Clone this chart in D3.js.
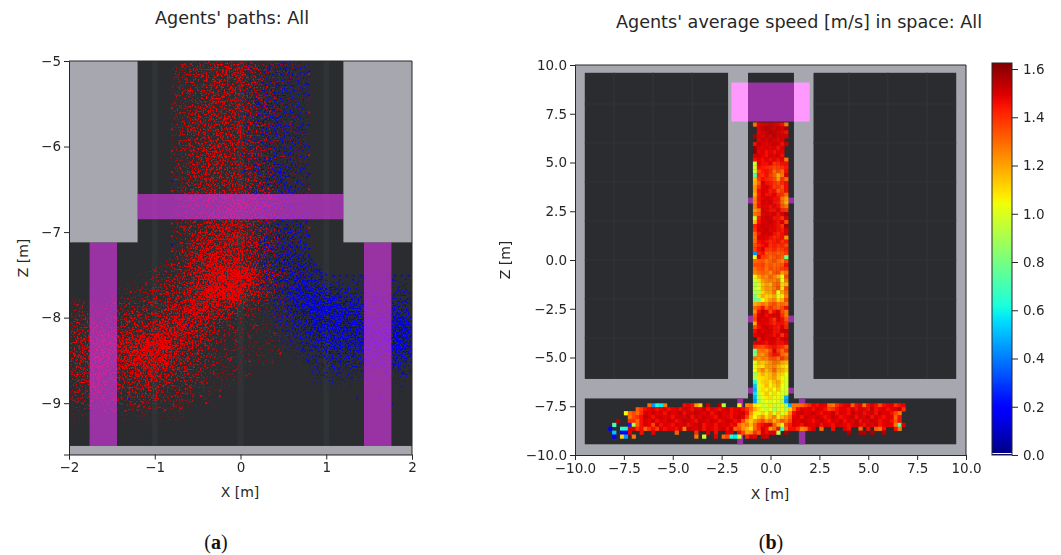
<!DOCTYPE html>
<html><head><meta charset="utf-8">
<script src="https://cdn.jsdelivr.net/npm/d3@7/dist/d3.min.js"></script>
<style>html,body{margin:0;background:#fff}svg{display:block}text{font-family:"DejaVu Sans",sans-serif;fill:#262626}</style>
</head><body><svg id="c" width="1061" height="555"></svg>
<script>
const titleA="Agents' paths: All", titleB="Agents' average speed [m/s] in space: All";
const ticksAX=[-2,-1,0,1,2], ticksAZ=[-5,-6,-7,-8,-9];
const ticksB=[-10,-7.5,-5,-2.5,0,2.5,5,7.5,10];
const ticksC=[0,0.2,0.4,0.6,0.8,1.0,1.2,1.4,1.6];
// density: rows z=-5.1,-5.3,... ; columns x=-1.9,-1.7,...,1.9; scale 0-9
const redDensity=[
[0,0,0,0,0,0,2,3,4,5,4,2,2,1,0,0,0,0,0,0],
[0,0,0,0,0,0,2,3,4,4,3,2,1,1,0,0,0,0,0,0],
[0,0,0,0,0,0,2,3,4,4,3,2,1,1,0,0,0,0,0,0],
[0,0,0,0,0,0,2,4,4,4,3,2,1,1,0,0,0,0,0,0],
[0,0,0,0,0,0,2,3,4,4,3,2,1,1,0,0,0,0,0,0],
[0,0,0,0,0,0,2,3,5,4,3,2,1,1,0,0,0,0,0,0],
[0,0,0,0,0,0,2,4,4,4,3,2,1,1,0,0,0,0,0,0],
[0,0,0,0,0,0,2,3,4,4,4,3,1,1,0,0,0,0,0,0],
[0,0,0,0,0,0,2,3,4,5,5,3,2,1,0,0,0,0,0,0],
[0,0,0,0,0,0,2,3,5,5,4,3,1,1,0,0,0,0,0,0],
[0,0,0,0,0,0,2,4,5,6,5,3,1,1,0,0,0,0,0,0],
[0,0,0,0,0,1,3,5,6,6,4,2,1,0,0,0,0,0,0,0],
[0,0,0,0,1,2,3,5,7,8,7,3,2,1,0,0,0,0,0,0],
[0,0,1,1,2,3,4,6,8,8,6,3,1,0,0,0,0,0,0,0],
[2,2,2,3,3,4,5,6,5,4,2,1,1,0,0,0,0,0,0,0],
[3,4,3,4,4,6,6,5,3,2,1,1,1,0,0,0,0,0,0,0],
[4,5,5,6,7,7,5,4,2,1,1,1,1,0,0,0,0,0,0,0],
[4,5,5,6,7,6,4,3,2,1,1,1,0,0,0,0,0,0,0,0],
[3,4,3,4,5,4,3,2,1,1,0,0,0,0,0,0,0,0,0,0],
[2,3,2,3,3,2,2,1,1,0,0,0,0,0,0,0,0,0,0,0],
[1,1,1,1,1,1,1,0,0,0,0,0,0,0,0,0,0,0,0,0]];
const blueDensity=[
[0,0,0,0,0,0,0,0,0,0,1,2,3,2,0,0,0,0,0,0],
[0,0,0,0,0,0,0,0,0,0,1,2,3,2,0,0,0,0,0,0],
[0,0,0,0,0,0,0,0,0,0,1,3,3,2,0,0,0,0,0,0],
[0,0,0,0,0,0,0,0,0,0,2,3,3,2,0,0,0,0,0,0],
[0,0,0,0,0,0,0,0,0,0,1,3,3,2,0,0,0,0,0,0],
[0,0,0,0,0,0,0,0,0,0,1,2,3,2,0,0,0,0,0,0],
[0,0,0,0,0,0,0,0,0,0,1,3,3,2,0,0,0,0,0,0],
[0,0,0,0,0,0,0,0,0,0,1,2,3,2,0,0,0,0,0,0],
[0,0,0,0,0,0,0,0,0,0,1,2,3,2,0,0,0,0,0,0],
[0,0,0,0,0,0,0,0,0,0,1,2,3,3,0,0,0,0,0,0],
[0,0,0,0,0,0,0,0,0,0,1,3,4,3,0,0,0,0,0,0],
[0,0,0,0,0,0,0,0,0,0,1,3,4,4,1,0,0,0,0,0],
[0,0,0,0,0,0,0,0,0,0,0,2,4,5,3,0,0,0,0,0],
[0,0,0,0,0,0,0,0,0,0,0,1,3,6,5,4,3,2,2,2],
[0,0,0,0,0,0,0,0,0,0,0,1,3,5,7,6,5,4,4,4],
[0,0,0,0,0,0,0,0,0,0,0,0,2,3,6,6,6,6,6,7],
[0,0,0,0,0,0,0,0,0,0,0,0,1,2,4,5,5,6,6,7],
[0,0,0,0,0,0,0,0,0,0,0,0,0,1,2,3,3,4,4,4],
[0,0,0,0,0,0,0,0,0,0,0,0,0,0,1,1,1,1,1,1]];
// individual dots, in hundredths of a metre: each row is [z, x, x, ...]
const redDotRows=[
[-502,-55,-38,-21,-9,3,14,-44,-28],[-506,-68,-47,-30,-12,-4,9,21,-61],[-510,-72,-52,-33,-25,-6,17,36,-16],[-514,-59,-41,-19,-2,12,28,-66,-36],[-518,-75,-49,-27,-14,6,19,-57,-8],
[-522,-63,-45,-35,-20,-1,24,42,-70],[-526,-54,-31,-16,8,15,-42,-69,-24],[-530,-76,-58,-39,-11,2,31,-47,-28],[-534,-66,-50,-23,-7,18,-36,-13,50],[-538,-71,-44,-29,-3,11,26,-60,-18],
[-542,-56,-33,-15,5,-46,-25,38,-74],[-546,-64,-40,-21,-9,13,-52,-31,22],[-550,-78,-48,-26,-4,9,-58,-37,-14],[-554,-61,-43,-19,1,29,-69,-33,16],[-558,-53,-35,-12,7,-45,-24,-73,44],
[-562,-67,-41,-28,-6,20,-55,-17,35],[-566,-74,-50,-22,-10,4,-38,-62,12],[-570,-59,-32,-16,10,25,-47,-27,-68],[-574,-65,-42,-20,-2,-53,-30,17,58],[-578,-77,-56,-36,-13,6,-44,-24,33],
[-582,-60,-39,-18,-5,15,-49,-28,-71],[-586,-68,-46,-25,3,22,-57,-34,-11],[-590,-54,-31,-14,8,-43,-21,41,-75],[-594,-63,-38,-27,-8,14,-51,-19,28],[-598,-72,-48,-33,-1,-59,-23,9,19],
[-602,-57,-35,-16,5,-45,-26,-66,37],[-606,-70,-52,-29,-10,13,-40,-20,24],[-610,-61,-42,-23,-3,-55,-32,7,48],[-614,-76,-47,-18,11,-37,-27,-65,30],[-618,-58,-34,-12,2,-49,-22,16,-8],
[-622,-67,-44,-25,-6,-54,-31,21,-72],[-626,-62,-39,-15,9,-48,-28,-74,34],[-630,-56,-36,-20,-2,12,-43,-11,26],[-634,-69,-50,-30,-7,-60,-24,15,54],[-638,-64,-41,-17,4,-52,-33,-77,19],
[-642,-58,-37,-26,-9,-46,-13,23,8],[-646,-73,-49,-21,1,-62,-34,14,40],[-650,-55,-42,-16,-4,-30,10,-68,27],[-654,-65,-38,-24,6,-51,-12,18,-76],[-658,-60,-45,-29,-8,-19,13,-35,31],
[-690,-63,-44,-27,-10,2,20,-54,-35,-18,12,34,-70],[-694,-58,-40,-22,-6,8,-48,-31,26,-67,-14,46],[-698,-74,-52,-33,-16,4,-43,-25,17,-61,-9,38],[-702,-64,-37,-20,-2,14,-47,-29,-11,30,-56,7],
[-706,-69,-49,-30,-13,-39,-21,6,22,-59,-5,44],[-710,-55,-41,-26,-8,11,-34,-17,-63,28,0,-47],[-714,-66,-45,-32,-15,3,-53,-23,19,-37,-9,36],[-718,-60,-38,-19,-4,-46,-28,9,-72,25,-12,-54],
[-722,-57,-43,-24,-7,-35,-16,15,-65,31,2,-29],[-726,-62,-47,-33,-11,-22,5,-52,18,-39,-3,27],[-730,-76,-50,-28,-14,-40,-6,12,-58,-20,24,-33],[-734,-68,-44,-31,-17,-8,8,-54,-25,-37,20,-2],
[-738,-60,-48,-36,-21,-10,3,-29,16,-42,-15,-55,-26],[-742,-72,-45,-33,-19,-5,11,-52,-27,-38,25,-12,-2],
[-746,-86,-64,-43,-30,-16,-3,14,-50,-24,-36,-9,5,-58,30],[-749,-94,-70,-52,-35,-20,-6,8,-42,-27,-13,-1,22,-61,42],[-752,-81,-57,-39,-25,-11,3,-47,-31,-18,-7,17,-66,-34,12],
[-755,-102,-74,-46,-28,-15,-2,10,-38,-22,-8,-54,26,-33,-12],[-758,-88,-63,-41,-23,-9,6,-49,-30,-17,-4,-71,35,-36,-14],[-761,-108,-79,-55,-33,-19,-7,13,-44,-26,1,-60,23,-11,-39],
[-764,-96,-68,-47,-29,-13,0,-37,-21,-6,-52,9,-84,-32,-16],[-767,-116,-85,-60,-40,-24,-10,4,-34,-18,-50,19,-28,-3,-73],[-770,-104,-76,-51,-36,-20,-8,-43,-27,-14,7,-65,31,-31,-2],
[-773,-92,-70,-45,-30,-16,-4,-55,-25,-11,15,-38,-81,-22,2],[-776,-125,-82,-58,-41,-23,-9,-34,-19,3,-48,-13,28,-66,-5],[-779,-110,-74,-49,-32,-17,-6,-42,-26,11,-62,-12,-89,-37,5],
[-782,-133,-97,-66,-44,-28,-15,-35,-21,-2,-54,18,-80,-9,-47],[-785,-184,-150,-103,-72,-52,-36,-20,-30,-10,8,-60,-42,-88,-25],[-788,-172,-126,-91,-64,-46,-31,-16,-56,-24,2,-38,-79,-7,-50],
[-791,-194,-142,-113,-84,-58,-39,-26,-12,-69,-33,-47,14,-98,-20],[-794,-165,-128,-100,-75,-53,-35,-43,-22,-62,-8,-90,-29,-118,4],[-797,-186,-155,-120,-86,-67,-48,-30,-57,-38,-16,-78,-24,-104,12],
[-800,-197,-173,-137,-108,-82,-59,-41,-50,-26,-70,-13,-93,-33,-147],[-803,-180,-145,-116,-94,-72,-54,-36,-63,-44,-19,-85,-28,-128,6],[-806,-191,-162,-131,-101,-77,-60,-46,-68,-31,-52,-110,-38,-15,-88],
[-809,-176,-149,-124,-95,-71,-56,-40,-83,-62,-23,-105,-35,-136,18],[-812,-198,-168,-139,-112,-87,-66,-48,-75,-55,-30,-98,-42,-122,-10],[-815,-184,-157,-127,-103,-80,-58,-90,-69,-37,-116,-47,-143,-22,-6],
[-818,-193,-170,-148,-121,-96,-74,-61,-84,-52,-108,-41,-133,-27,24],[-821,-178,-153,-130,-106,-89,-65,-78,-50,-118,-34,-97,-160,-14,40],[-824,-199,-182,-158,-125,-100,-76,-57,-92,-44,-115,-68,-140,-20,8],
[-827,-188,-164,-144,-119,-93,-72,-83,-54,-107,-36,-129,-62,-175,-4],[-830,-174,-151,-134,-111,-87,-66,-98,-48,-122,-79,-196,-25,32,-40],[-833,-195,-166,-146,-126,-102,-81,-60,-114,-91,-70,-136,-38,-180,15],
[-836,-183,-159,-138,-117,-95,-73,-104,-52,-128,-85,-155,-30,-65,-8],[-839,-198,-171,-149,-123,-99,-78,-112,-58,-88,-135,-44,-189,-16,48],[-842,-177,-154,-132,-109,-84,-69,-96,-120,-50,-143,-33,-164,-74,22],
[-845,-192,-168,-141,-118,-94,-75,-106,-55,-128,-82,-156,-36,-186,2],[-848,-181,-150,-130,-104,-86,-63,-113,-92,-139,-46,-172,-24,-72,-12],[-851,-196,-162,-145,-124,-101,-79,-116,-60,-90,-135,-40,-185,10,-66],
[-854,-175,-152,-127,-110,-88,-69,-98,-126,-49,-147,-28,-165,-80,36],[-857,-190,-170,-136,-115,-93,-71,-105,-54,-122,-160,-38,-83,-18,-59],[-860,-183,-155,-133,-107,-85,-64,-119,-96,-143,-44,-176,-6,-74,-30],
[-863,-197,-167,-141,-120,-99,-77,-112,-52,-131,-89,-153,-34,-186,-62],[-866,-179,-149,-128,-103,-82,-117,-68,-140,-94,-160,-42,-20,-191,8],[-869,-188,-163,-135,-111,-90,-72,-125,-56,-146,-100,-174,-76],
[-872,-172,-147,-122,-97,-78,-113,-60,-138,-86,-194,-31,-157,-48],[-875,-184,-158,-131,-106,-84,-124,-65,-150,-92,-178,-40,-116,-14],[-878,-193,-168,-142,-115,-95,-129,-70,-155,-80,-45,-104,-186],
[-881,-176,-150,-120,-100,-136,-74,-165,-88,-58,-190,-110,-24],[-884,-186,-160,-133,-107,-145,-83,-172,-62,-118,-36,-94],[-887,-195,-153,-126,-98,-140,-72,-178,-50,-112,-164,-86],
[-890,-170,-144,-116,-182,-90,-130,-66,-152,-105,-44,-192],[-893,-188,-158,-124,-100,-138,-76,-174,-112,-58,-148],[-896,-180,-146,-118,-162,-92,-132,-70,-196,-106,-40],
[-899,-190,-154,-128,-172,-86,-112,-150,-60,-138,-98],[-902,-176,-140,-104,-184,-124,-78,-160,-50,-116],[-905,-192,-166,-130,-94,-150,-70,-110,-32,-178]];
const blueDotRows=[
[-504,8,24,38,52,70],[-510,3,19,33,47,62,76],[-516,12,28,41,58,73],[-522,6,22,36,50,66],[-528,15,30,44,60,78],[-534,2,20,34,54,69],[-540,10,26,42,56,74],[-546,17,31,48,63],
[-552,5,23,37,52,71],[-558,13,29,45,59,77],[-564,8,21,39,55,67],[-570,16,33,46,61,75],[-576,4,25,40,53,72],[-582,11,27,43,64,79],[-588,18,35,49,57,68],[-594,7,22,38,51,74],
[-600,14,30,44,62,76],[-606,3,24,41,55,70],[-612,19,34,47,60,78],[-618,9,26,39,58,66],[-624,15,32,50,63,75],[-630,5,21,43,54,71],[-636,12,28,37,59,77],[-642,20,35,48,65],
[-648,8,25,42,56,73],[-654,16,31,46,61,79],[-660,4,23,38,52,69],[-690,11,29,44,57,75],[-696,-6,19,36,51,67],[-702,14,27,43,60,78],[-708,22,34,48,64,72],[-714,9,30,46,58,76],
[-720,26,37,52,66,79],[-726,18,33,49,61,74],[-732,28,42,55,69,81],[-736,22,38,50,64,78,84],[-740,31,44,58,71,86],[-744,26,40,54,67,80,90],
[-748,34,47,62,75,88,96],[-753,30,43,56,69,82,95,110,128,152,177],[-756,38,52,65,78,91,104,120,141,166,190],[-759,28,46,60,73,86,100,115,135,158,183],[-762,36,50,63,76,89,108,125,147,172,195],
[-765,42,55,68,81,94,112,130,150,178],[-768,33,48,61,74,87,102,119,138,163,188],[-771,40,53,66,79,92,106,124,144,170,197],[-774,45,58,71,84,97,114,131,154,181],[-777,36,51,64,77,90,103,121,140,167,192],
[-780,43,56,69,82,95,110,127,148,174,199],[-783,49,62,75,88,101,117,134,156,185,126],[-786,39,54,67,80,93,107,123,143,169,194],[-789,46,59,72,85,98,113,129,151,179,137],[-792,41,57,70,83,96,109,125,146,172,196],
[-795,52,65,78,91,104,119,136,158,187,145],[-798,44,60,73,86,99,115,132,153,176,198],[-801,55,68,81,94,107,122,139,161,183,150],[-804,47,63,76,89,102,118,135,156,178,195],[-807,58,71,84,97,111,126,142,164,188,148],
[-810,50,66,79,92,105,120,137,159,181,197],[-813,61,74,87,100,114,129,146,167,190,152],[-816,53,69,82,95,108,124,141,162,184,199],[-819,64,77,90,103,117,133,149,170,193,155],[-822,56,72,85,98,112,127,144,165,186,196],
[-825,67,80,93,106,120,136,152,173,191,158],[-828,59,75,88,101,115,131,147,168,188,198],[-831,70,83,96,110,125,140,156,176,194],[-834,62,78,91,104,118,134,150,171,189,163],[-837,73,86,99,113,128,143,159,179,197],
[-840,81,94,107,122,137,153,174,192,166],[-843,76,89,102,116,132,148,169,186,198],[-846,84,97,110,126,141,157,178,195],[-849,79,92,105,120,135,151,172,190],[-852,87,100,114,129,145,161,182,197],
[-855,82,95,108,124,139,155,176,193],[-858,90,103,118,133,149,167,186],[-862,86,99,112,127,143,160,180,198],[-866,94,110,122,137,153,171,190],[-870,100,116,130,147,164,183],[-875,107,124,141,158,176,194],
[-880,132,150,168,187],[-886,118,146,172],[-892,136,160,185],[-898,150,176]];
// dots along the wall edges and stray dots: x,z pairs in hundredths
const redEdge=[-80,-555,-80,-580,-80,-605,-80,-630,-80,-652,-80,-690,-80,-705,-80,-722,-80,-738,80,-515,80,-560,80,-610,80,-650,80,-695,-158,-909,-146,-909,-134,-909,-120,-908,-88,-908,-70,-906,-40,-900,-24,-892,-110,-760,-100,-745,-128,-770,-150,-775,-190,-785];
const blueEdge=[80,-512,80,-540,80,-575,80,-600,80,-632,80,-658,80,-680,80,-705,80,-728,-80,-640,-80,-662,-80,-715,83,-732,86,-738,90,-744,94,-748,100,-750,108,-751,116,-751,124,-751,132,-751,140,-751,148,-751,156,-751,164,-751,172,-751,180,-751,188,-751,196,-751,-38,-760,-60,-808,-130,-895,-175,-908];
// mean speed from panel (b), in cm/s; 0 = empty cell. Nine columns x=-0.8..0.8, rows top to bottom
const speedCorridor=[
[130,148,150,150,152,150,148,146,128],[0,150,152,154,152,150,152,150,156],[0,148,150,152,154,152,150,148,146],
[156,150,148,152,150,154,150,150,150],[0,148,152,150,152,150,148,150,0],[146,154,150,148,150,152,150,146,152],
[160,150,148,150,148,150,146,150,0],[160,148,150,146,148,146,148,148,0],[150,152,148,146,150,148,150,146,0],
[146,148,146,148,146,148,146,148,128],[97,150,146,146,148,140,142,146,146],[97,146,144,142,140,136,138,140,144],
[95,136,144,146,142,130,136,130,146],[72,142,140,146,138,132,118,128,150],[115,138,146,142,140,136,122,140,130],
[118,132,150,146,144,140,136,142,146],[122,140,148,150,146,138,140,134,146],[122,146,150,148,144,146,132,138,146],
[118,144,150,146,146,148,142,140,130],[125,146,148,150,148,146,146,128,120],[125,144,150,148,150,146,144,130,118],
[128,146,148,148,146,148,146,134,128],[122,128,150,148,146,146,148,142,140],[128,132,148,150,148,150,146,150,156],
[98,144,150,152,150,146,146,140,150],[116,146,150,150,152,148,146,150,136],[142,148,152,150,150,148,146,140,156],
[140,150,150,152,148,148,146,144,150],[130,146,152,150,150,146,142,146,150],[128,150,150,148,146,142,144,146,122],
[130,146,148,146,142,144,146,140,144],[134,142,146,148,140,144,140,142,136],[136,146,150,140,138,142,136,138,142],
[45,142,146,134,134,136,132,134,138],[104,150,138,136,130,134,136,132,80],[130,132,134,128,132,136,130,126,136],
[135,136,138,130,134,130,132,134,146],[128,134,136,128,136,132,134,138,140],[126,130,132,130,124,134,136,122,128],
[105,120,128,124,132,126,118,104,136],[98,110,122,126,128,126,130,100,128],[92,98,116,122,118,130,132,112,116],
[94,104,118,124,122,128,136,110,136],[92,90,112,120,120,130,104,120,130],[82,108,118,112,114,120,100,108,126],
[78,80,104,114,122,126,112,118,136],[118,122,128,124,132,136,128,130,128],[130,136,146,130,140,134,130,136,146],
[124,146,152,148,136,146,150,136,128],[134,150,152,146,148,150,150,140,128],[136,152,148,150,146,140,150,146,134],
[118,148,150,148,146,142,146,146,140],[136,146,150,152,148,146,144,150,142],[146,152,148,150,150,146,146,152,152],
[148,150,152,150,148,146,148,140,148],[0,146,152,148,150,150,146,150,152],[150,150,148,146,150,148,146,146,148],
[140,136,134,140,144,146,142,140,132],[78,128,130,126,136,150,138,130,140],[80,126,122,130,140,146,144,130,126],
[128,122,128,126,134,136,128,140,132],[100,118,114,118,124,130,128,120,116],[100,112,108,120,122,126,118,112,108],
[104,118,126,116,122,132,120,118,112],[88,110,118,112,116,124,114,112,104],[92,108,110,112,116,122,112,106,100],
[62,106,112,114,108,116,120,108,100],[52,102,108,116,106,112,118,104,98],[48,100,110,106,112,104,114,102,100],
[56,98,106,114,102,110,104,100,96],[50,92,102,108,110,100,106,98,50],[46,88,100,104,98,104,100,92,45]];
// Nine rows of the cross corridor; columns x=-8.2,-8.0,... ; 0 = empty cell
const speedBand=[
[0,0,0,0,0,0,0,0,0,0,130,45,62,58,128,0,0,0,0,146,148,146,122,112,0,152,0,0,156,94,0,0,0,106,0,124,128,108,104,96,100,108,94,98,106,88,48,128,128,130,136,142,148,146,150,148,130,128,140,146,148,150,132,146,148,128,146,150,146,136,146,148,150,140,146,148],
[0,0,0,0,0,0,0,132,138,146,148,150,146,148,150,146,148,150,146,150,148,146,150,148,152,146,150,148,146,150,152,146,148,150,146,140,130,118,110,100,96,104,92,98,106,90,112,130,146,150,148,150,146,150,148,146,136,140,146,150,148,146,150,146,150,148,146,152,146,148,150,146,148,150,154,140],
[0,0,0,0,104,130,136,130,140,150,148,152,148,150,146,152,148,150,152,146,150,148,152,150,148,152,146,150,152,148,150,146,148,150,152,144,124,108,100,112,104,116,100,112,98,108,124,146,150,152,148,150,152,148,146,150,148,152,146,150,148,146,152,148,150,146,148,150,146,152,148,150,146,136,128],
[0,0,0,0,0,128,136,140,146,152,150,146,150,152,148,150,146,152,150,148,152,146,150,148,152,150,148,146,152,150,148,146,150,152,148,136,118,104,116,124,110,118,126,108,116,122,130,148,150,146,152,150,148,152,150,146,148,152,150,146,148,150,152,146,150,148,152,146,150,148,146,150,148,130,146],
[0,0,156,0,0,140,140,130,146,150,148,152,146,150,148,152,150,146,148,152,150,148,146,152,150,148,152,150,146,148,152,150,146,148,136,120,112,122,130,136,124,130,118,126,134,128,136,150,148,152,150,148,146,150,152,148,146,150,148,152,146,150,148,152,146,150,148,152,150,146,148,150,146,134,146],
[0,70,0,0,0,25,92,132,146,150,148,136,152,146,150,148,146,152,148,150,146,148,150,152,146,148,150,146,152,148,150,146,148,130,122,128,116,130,142,146,148,150,132,118,106,138,144,150,148,146,152,150,148,152,146,150,148,146,152,150,148,146,150,152,148,146,150,148,152,146,148,150,148,128,72,150],
[15,0,0,66,62,150,150,140,146,130,140,146,138,150,146,148,148,146,150,126,152,150,148,152,146,150,148,146,150,152,146,150,130,134,122,116,108,130,140,150,146,120,130,146,66,130,146,146,140,124,128,146,150,0,130,0,0,146,0,0,150,146,0,0,130,0,146,0,132,128,146,0,0,146,128],
[0,52,0,20,18,148,0,0,146,0,0,148,0,0,0,0,0,132,0,0,0,0,140,0,0,150,0,146,0,0,148,150,0,146,136,120,124,140,132,150,146,148,148,92,0,156,0,0,0,0,0,0,0,0,0,0,0,0,0,0,0,156,0,0,156,156,0,156,0,0,156],
[0,18,0,112,45,0,128,0,0,0,0,0,0,0,0,0,0,0,0,0,0,0,128,0,98,0,0,148,0,130,136,62,58,96,0,142,150,148,0,152,150,0,0,0,0,0,0,0,0,0,0,0,0,0,0,0,0,0,0,0,0,0,0,0,0,0,0,0,0,0,0,0,0,0,0]];

const svg=d3.select("#c");
const DARK="#2a2c30",WALL="#a7a7b0",PURPLE="#9933a3",GRID="#303336",INK="#262626";
const jr=d3.scaleLinear([0,.35,.66,.89,1],[0,0,1,1,.5]),jg=d3.scaleLinear([0,.125,.375,.64,.91,1],[0,0,1,1,0,0]),jb=d3.scaleLinear([0,.11,.34,.65,1],[.5,1,1,0,0]);
const jet=t=>{t=Math.max(0,Math.min(1,t));return d3.rgb(jr(t)*255,jg(t)*255,jb(t)*255).formatRgb();};
const VMAX=1.625;

/* ---------- panel (a) ---------- */
const xA=d3.scaleLinear([-2,2],[69,412]), yA=d3.scaleLinear([-5,-9.6],[61,454.5]);
const A=svg.append("g");
const rectA=(g,x0,x1,z0,z1,f,o=1)=>g.append("rect").attr("x",xA(x0)).attr("width",xA(x1)-xA(x0)).attr("y",yA(z0)).attr("height",yA(z1)-yA(z0)).attr("fill",f).attr("opacity",o);
const defs=svg.append("defs");
defs.append("clipPath").attr("id","plotA").append("rect").attr("x",69).attr("y",61).attr("width",343).attr("height",393.5);
const walk=[[-.82,-5],[.82,-5],[.82,-7.3],[1,-7.5],[2,-7.5],[2,-9.6],[-2,-9.6],[-2,-7.7],[-1.3,-7.55],[-.82,-7.3]];
defs.append("clipPath").attr("id","walkA").append("polygon").attr("points",walk.map(p=>[xA(p[0]),yA(p[1])].join(",")).join(" "));
// Rendering texture only: turns the typed density grid into a dotted grain, and loosens the typed dots' rows
const grain=(id,colour,seed)=>{const f=defs.append("filter").attr("id",id).attr("x",0).attr("y",0).attr("width","100%").attr("height","100%").attr("filterUnits","userSpaceOnUse").attr("x",60).attr("y",55).attr("width",360).attr("height",405).attr("color-interpolation-filters","sRGB");
 f.append("feGaussianBlur").attr("in","SourceAlpha").attr("stdDeviation",4).attr("result","a");
 f.append("feTurbulence").attr("type","fractalNoise").attr("baseFrequency",.62).attr("numOctaves",1).attr("seed",seed).attr("result","n");
 f.append("feColorMatrix").attr("in","n").attr("type","matrix").attr("values","0 0 0 0 0 0 0 0 0 0 0 0 0 0 0 3 0 0 0 -1").attr("result","na");
 f.append("feComposite").attr("in","a").attr("in2","na").attr("operator","arithmetic").attr("k1",0).attr("k2",1).attr("k3",1).attr("k4",-1).attr("result","s");
 const ct=f.append("feComponentTransfer").attr("in","s").attr("result","m"); ct.append("feFuncA").attr("type","linear").attr("slope",3.5);
 f.append("feFlood").attr("flood-color",colour).attr("result","c");
 f.append("feComposite").attr("in","c").attr("in2","m").attr("operator","in").attr("result","o");
 f.append("feGaussianBlur").attr("in","o").attr("stdDeviation",.35);};
grain("grainB","#0000e6",7); grain("grainR","#f00000",3);
const wob=defs.append("filter").attr("id","wob").attr("filterUnits","userSpaceOnUse").attr("x",60).attr("y",55).attr("width",360).attr("height",405).attr("color-interpolation-filters","sRGB");
wob.append("feTurbulence").attr("type","fractalNoise").attr("baseFrequency",.18).attr("numOctaves",2).attr("seed",11).attr("result","t");
wob.append("feDisplacementMap").attr("in","SourceGraphic").attr("in2","t").attr("scale",14).attr("xChannelSelector","R").attr("yChannelSelector","G");
const soft=defs.append("filter").attr("id","soft"); soft.append("feGaussianBlur").attr("stdDeviation",.35);
rectA(A,-2,2,-5,-9.6,DARK);
[-1,0,1].forEach(v=>rectA(A,v-.035,v+.035,-5,-9.5,GRID));
[-6,-7,-8,-9].forEach(v=>rectA(A,-2,2,v-.015,v+.015,GRID));
const walkG=A.append("g").attr("clip-path","url(#walkA)");
const drawDensity=(grid,filter,k)=>{const g=walkG.append("g").attr("filter",`url(#${filter})`);
 grid.forEach((row,r)=>row.forEach((d,c)=>{ if(!d) return;
  const x=-2+.2*c, z=-5-.2*r;
  rectA(g,x,x+.2,z,z-.2,"#000",Math.min(1,d/9*k));}));};
drawDensity(blueDensity,"grainB",1.0);
drawDensity(redDensity,"grainR",1.0);
const pairs=a=>d3.range(0,a.length-1,2).map(i=>[a[i]/100,a[i+1]/100]);
const fromRows=rows=>rows.flatMap(r=>r.slice(1).map(x=>[x/100,r[0]/100]));
const dots=A.append("g").attr("clip-path","url(#plotA)");
const drawDots=(g,pts,fill,r,o)=>g.append("g").selectAll("circle").data(pts).join("circle").attr("cx",d=>xA(d[0])).attr("cy",d=>yA(d[1])).attr("r",r).attr("fill",fill).attr("opacity",o);
const loose=dots.append("g").attr("clip-path","url(#walkA)").append("g").attr("filter","url(#wob)");
drawDots(loose,fromRows(blueDotRows),"#0000f0",1,.75);
drawDots(loose,fromRows(redDotRows),"#ff0000",1,.75);
drawDots(dots,pairs(blueEdge),"#0000f0",1.1,.8);
drawDots(dots,pairs(redEdge),"#ff0000",1.1,.8);
const BAND="#c536d0";
rectA(A,-1.2,1.2,-6.555,-6.85,BAND,.72);
rectA(A,-1.76,-1.44,-7.12,-9.5,BAND,.72);
rectA(A,1.44,1.76,-7.12,-9.5,BAND,.72);
rectA(A,-2,-1.2,-5,-7.12,WALL); rectA(A,1.2,2,-5,-7.12,WALL); rectA(A,-2,2,-9.5,-9.6,WALL);
const axA=svg.append("g");
axA.append("g").attr("transform","translate(0,454.5)").call(d3.axisBottom(xA).tickValues(ticksAX).tickSize(5).tickPadding(3).tickFormat(d3.format("d")));
axA.append("g").attr("transform","translate(69,0)").call(d3.axisLeft(yA).tickValues(ticksAZ).tickSize(5).tickPadding(3).tickFormat(d3.format("d")));
axA.append("path").attr("d",`M69,61H412V454.5`).attr("fill","none").attr("stroke",INK);

/* ---------- panel (b) ---------- */
const xB=d3.scaleLinear([-10,10],[575,966]), yB=d3.scaleLinear([10,-10],[65,455]);
const B=svg.append("g");
const rectB=(x0,x1,z0,z1,f)=>B.append("rect").attr("x",xB(x0)).attr("width",xB(x1)-xB(x0)).attr("y",yB(z0)).attr("height",yB(z1)-yB(z0)).attr("fill",f);
rectB(-10,10,10,-10,WALL);
rectB(-9.5,-2.17,9.6,-6.1,DARK); rectB(2.2,9.5,9.6,-6.1,DARK); rectB(-1.15,1.2,9.6,-7.2,DARK); rectB(-9.5,9.5,-7.1,-9.45,DARK);
[-8,-6,-4,4,6,8].forEach(v=>{rectB(v-.04,v+.04,9.6,-6.1,GRID);});
[8,6,4,2,0,-2,-4].forEach(v=>{rectB(-9.5,-2.17,v+.03,v-.03,GRID);rectB(2.2,9.5,v+.03,v-.03,GRID);});
rectB(-2,-1.15,9.1,7.1,"#ff99ff"); rectB(1.2,2,9.1,7.1,"#ff99ff"); rectB(-1.15,1.2,9.1,7.1,PURPLE);
[[-1.15,-.88,3.2,2.9],[.9,1.2,3.2,2.9],[-1.15,-.88,-2.85,-3.2],[.9,1.2,-2.85,-3.2],[-1.15,-.88,-6.55,-6.85],[.9,1.2,-6.55,-6.85],[-1.7,-1.4,-7.1,-9.45],[1.45,1.78,-7.1,-9.45]].forEach(r=>rectB(r[0],r[1],r[2],r[3],PURPLE));
const cells=[];
speedCorridor.forEach((row,k)=>row.forEach((v,c)=>{if(v)cells.push({x:-.8+.2*c,z:6.95-.2*k,v:v/100});}));
speedBand.forEach((row,k)=>row.forEach((v,c)=>{if(v)cells.push({x:-8.2+.2*c,z:6.95-.2*(72+k),v:v/100});}));
B.append("g").attr("filter","url(#soft)").selectAll("rect").data(cells).join("rect")
 .attr("x",d=>xB(d.x-.1)).attr("width",xB(.2)-xB(0)+.3).attr("y",d=>yB(d.z+.1)).attr("height",yB(-.2)-yB(0)+.3)
 .attr("fill",d=>jet(d.v/VMAX));
const axB=svg.append("g"), f1=d3.format(".1f");
axB.append("g").attr("transform","translate(0,455)").call(d3.axisBottom(xB).tickValues(ticksB).tickSize(5).tickPadding(3).tickFormat(f1));
axB.append("g").attr("transform","translate(575,0)").call(d3.axisLeft(yB).tickValues(ticksB).tickSize(5).tickPadding(3).tickFormat(f1));
axB.append("path").attr("d","M575,65H966V455").attr("fill","none").attr("stroke",INK);

/* ---------- colour bar ---------- */
const yC=d3.scaleLinear([0,VMAX],[455,63]);
const grad=defs.append("linearGradient").attr("id","jet").attr("x1",0).attr("x2",0).attr("y1",1).attr("y2",0);
d3.range(0,1.0001,.02).forEach(t=>grad.append("stop").attr("offset",t).attr("stop-color",jet(t)));
svg.append("rect").attr("x",992).attr("y",63).attr("width",20).attr("height",392).attr("fill","url(#jet)");
svg.append("line").attr("x1",992).attr("x2",1012).attr("y1",453.5).attr("y2",453.5).attr("stroke","#fff");
svg.append("rect").attr("x",992).attr("y",63).attr("width",20).attr("height",392).attr("fill","none").attr("stroke",INK);
svg.append("g").attr("transform","translate(1012,0)").call(d3.axisRight(yC).tickValues(ticksC).tickSize(6).tickPadding(5).tickFormat(f1)).select(".domain").remove();
svg.selectAll(".tick text").attr("font-size",13.5).attr("font-family","DejaVu Sans").attr("fill",INK);
svg.selectAll(".tick line,.domain").attr("stroke",INK);

/* ---------- text ---------- */
const T=(x,y,s,size,rot)=>svg.append("text").attr("text-anchor","middle").attr("font-size",size).attr("transform",`translate(${x},${y})`+(rot?" rotate(-90)":"")).text(s);
T(232,24,titleA,17.6); T(799,28,titleB,17.6);
T(240,497,"X [m]",14); T(770,499,"X [m]",14);
T(28,258,"Z [m]",14,1); T(510,260,"Z [m]",14,1);
const cap=(x,l)=>{const t=svg.append("text").attr("x",x).attr("y",549).attr("text-anchor","middle").attr("font-size",20).style("font-family","Liberation Serif").style("fill","#111");
 t.append("tspan").text("(");t.append("tspan").attr("font-weight","bold").text(l);t.append("tspan").text(")");};
cap(216,"a");cap(771,"b");
</script></body></html>
